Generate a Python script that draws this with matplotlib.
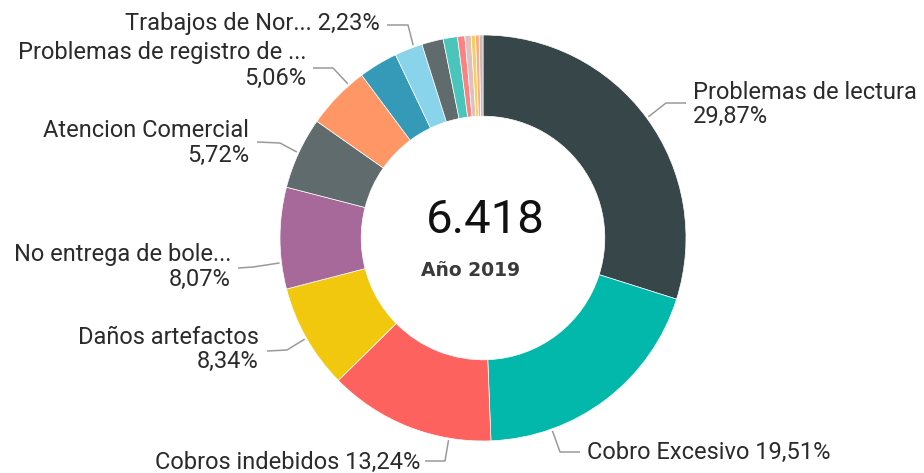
import matplotlib.pyplot as plt
import numpy as np

# Data (reclamos por tipo, total 6.418)
categories = ["Problemas de lectura", "Cobro Excesivo", "Cobros indebidos", "Daños artefactos",
              "No entrega de bole...", "Atencion Comercial", "Problemas de registro de ...",
              "", "Trabajos de Nor...", "", "", "", "", "", "", ""]
counts = [1917, 1252, 850, 535, 518, 367, 325, 199, 143, 110, 73, 37, 32, 22, 19, 19]
colors = ["#374649", "#01B8AA", "#FD625E", "#F2C80F", "#A66999", "#5F6B6D", "#FE9666",
          "#3599B8", "#8AD4EB", "#5F6B6D", "#4AC5BB", "#FB8281", "#DFBFBF", "#F4D25A",
          "#FDAB89", "#C9B8B8"]
total_label = "6.418"
subtitle = "Año 2019"

W, H = 924, 473
CX, CY, R = 483, 238, 203   # pixel coords, y down
TXT = "#2b2b2b"
FS = 17


def py(y):
    return H - y


fig = plt.figure(figsize=(W / 100, H / 100), dpi=100)
ax = fig.add_axes([0, 0, 1, 1])

wedges, _ = ax.pie(counts, colors=colors, startangle=90, counterclock=False,
                   radius=R, center=(CX, py(CY)),
                   wedgeprops=dict(width=R * 0.4, edgecolor="white", linewidth=0.5))
ax.set_xlim(0, W)
ax.set_ylim(0, H)
ax.set_aspect("equal")
ax.axis("off")

ax.text(CX + 2, py(220), total_label, ha="center", va="center", fontsize=34,
        family="Roboto", color="#111111")
ax.text(471, py(271), subtitle, ha="center", va="center", fontsize=13.5,
        family="DejaVu Sans", fontweight="bold", color="#3a3a3a")

# label layout: index, position within wedge (0..1), elbow, line end, text x, text y's, align, one line?
layout = [
    (0, 0.50, (666, 103), (686, 103), 693, (92, 116), "left", False),
    (1, 0.75, (560, 452), (580, 452), 587, (452,), "left", True),
    (2, 0.25, (445, 461), (425, 461), 420, (462,), "right", True),
    (3, 0.50, (287, 350), (267, 351), 259, (337, 361), "right", False),
    (4, 0.26, (253, 267), (238, 268), 231, (254, 279), "right", False),
    (5, 0.50, (280, 143), (257, 142), 249, (130, 155), "right", False),
    (6, 0.75, (333, 68), (313, 68), 306, (52, 78), "right", False),
    (8, 0.70, (408, 25), (387, 25), 380, (23,), "right", True),
]

for i, frac, elbow, end, tx, tys, align, oneline in layout:
    w = wedges[i]
    ang = np.deg2rad(w.theta1 + (w.theta2 - w.theta1) * (1 - frac))
    ax_, ay_ = CX + (R + 2) * np.cos(ang), py(CY) + (R + 2) * np.sin(ang)
    ax.plot([ax_, elbow[0], end[0]], [ay_, py(elbow[1]), py(end[1])],
            color="#9a9a9a", lw=1.1, solid_capstyle="butt")
    pct = f"{counts[i] / sum(counts) * 100:.2f}%".replace(".", ",")
    if oneline:
        ax.text(tx, py(tys[0]), f"{categories[i]} {pct}", ha=align, va="center",
                fontsize=FS, family="Roboto", color=TXT)
    else:
        ax.text(tx, py(tys[0]), categories[i], ha=align, va="center",
                fontsize=FS, family="Roboto", color=TXT)
        ax.text(tx, py(tys[1]), pct, ha=align, va="center",
                fontsize=FS, family="Roboto", color=TXT)

fig.savefig("out.png", dpi=100, facecolor="white")
